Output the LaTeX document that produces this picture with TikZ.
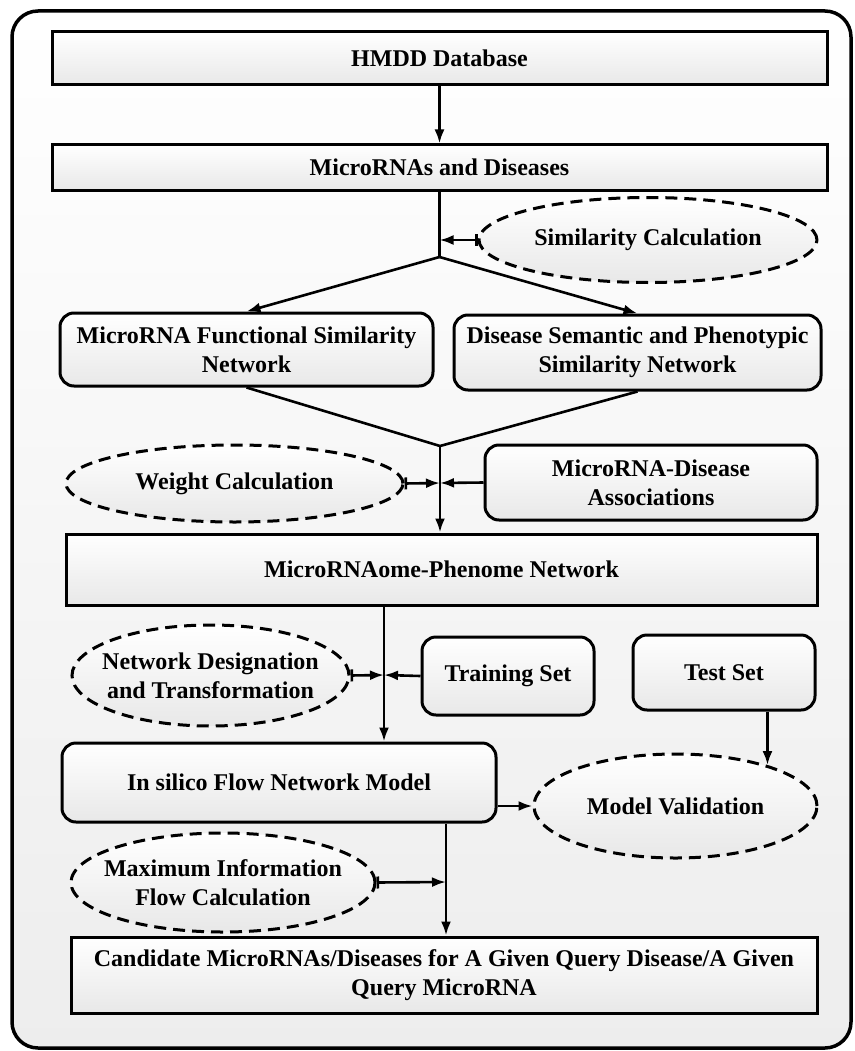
\documentclass[tikz,border=0pt]{standalone}
\usepackage{fontspec}
\setmainfont{Liberation Serif}
\usetikzlibrary{shapes.geometric,arrows.meta}

\def\flowLineWidth{2.6pt}
\def\boxLineWidth{3pt}
\def\flowTip{Latex[length=14pt,width=10pt]}

\tikzset{
    boxbase/.style = {draw, line width = \boxLineWidth, top color = white,
        bottom color = gray!18, inner sep = 0pt, align = center,
        font = \bfseries\fontsize{24}{29}\selectfont},
    sqbox/.style = {boxbase, rectangle},
    rbox/.style = {boxbase, rectangle, rounded corners = 14pt},
    oval/.style = {boxbase, ellipse, inner sep = -16pt,
        dash pattern = on 12pt off 7pt},
    flow/.style = {line width = \flowLineWidth, -{\flowTip}},
    feed/.style = {line width = \flowLineWidth,
        {Bar[width = 12pt, line width = \flowLineWidth]}-{\flowTip}},
    joinline/.style = {line width = \flowLineWidth},
}

\begin{document}
\begin{tikzpicture}[x = 1pt, y = -1pt]
    \useasboundingbox (0,0) rectangle (854,1051);
    %% outer frame
    \draw [line width = 3.5pt, rounded corners = 26pt, top color = white,
        bottom color = gray!14]
    (12,11) rectangle (851,1048)
    ;
    %% boxes
    \node [sqbox, minimum width = 775, minimum height = 53]
    (hmdd) at (439.5,58.5) {HMDD Database};
    \node [sqbox, minimum width = 775, minimum height = 45]
    (mirdis) at (439.5,167.5) {MicroRNAs and Diseases};
    \node [oval, minimum width = 338, minimum height = 85]
    (simcalc) at (648,240) {Similarity Calculation};
    \node [rbox, minimum width = 373, minimum height = 73]
    (mfsn) at (246.5,349.5) {MicroRNA Functional Similarity\\Network};
    \node [rbox, minimum width = 367, minimum height = 75]
    (dspsn) at (637.5,352.5) {Disease Semantic and Phenotypic\\Similarity Network};
    \node [oval, minimum width = 337, minimum height = 77]
    (wcalc) at (234.5,483.5) {Weight Calculation};
    \node [rbox, minimum width = 332, minimum height = 75]
    (mda) at (651,482.5) {MicroRNA-Disease\\Associations};
    \node [sqbox, minimum width = 751, minimum height = 71]
    (mpn) at (441.5,569.5) {MicroRNAome-Phenome Network};
    \node [oval, minimum width = 277, minimum height = 101]
    (ndt) at (210.5,675.5) {Network Designation\\and Transformation};
    \node [rbox, minimum width = 172, minimum height = 78]
    (train) at (508,676) {Training Set};
    \node [rbox, minimum width = 182, minimum height = 75]
    (test) at (724,672.5) {Test Set};
    \node [rbox, minimum width = 434, minimum height = 79]
    (isfn) at (279,782.5) {In silico Flow Network Model};
    \node [oval, minimum width = 283, minimum height = 104]
    (mval) at (675.5,806) {Model Validation};
    \node [oval, minimum width = 304, minimum height = 99]
    (mifc) at (223,882.5) {Maximum Information\\Flow Calculation};
    \node [sqbox, minimum width = 746, minimum height = 76]
    (cand) at (444,975)
    {Candidate MicroRNAs/Diseases for A Given Query Disease/A Given\\Query MicroRNA};
    %% junctions
    \coordinate (splitTop) at (439.5,257);
    \coordinate (simIn) at (439.5,240);
    \coordinate (mergeMid) at (440,446);
    \coordinate (weightIn) at (440,483);
    \coordinate (trainIn) at (384,675);
    \coordinate (flowIn) at (446,882);
    %% connectors
    \draw [flow] (hmdd) -- (mirdis);
    \draw [joinline] (mirdis.south) -- (splitTop);
    \draw [feed] (simcalc.west) -- (simIn);
    \draw [flow] (splitTop) -- (mfsn.north);
    \draw [flow] (splitTop) -- (dspsn.north);
    \draw [joinline] (mfsn.south) -- (mergeMid) -- (dspsn.south);
    \draw [flow] (mergeMid) -- (mergeMid |- mpn.north);
    \draw [feed] (wcalc.east) -- (weightIn);
    \draw [flow] (mda.west) -- (weightIn);
    \draw [flow] (trainIn |- mpn.south) -- (trainIn |- isfn.north);
    \draw [feed] (ndt.east) -- (trainIn);
    \draw [flow] (train.west) -- (trainIn);
    \draw [flow] (test.south -| mval.24) -- (mval.24);
    \draw [flow] (isfn.east |- mval.west) -- (mval.west);
    \draw [flow] (flowIn |- isfn.south) -- (flowIn |- cand.north);
    \draw [feed] (mifc.east) -- (flowIn);
\end{tikzpicture}
\end{document}
